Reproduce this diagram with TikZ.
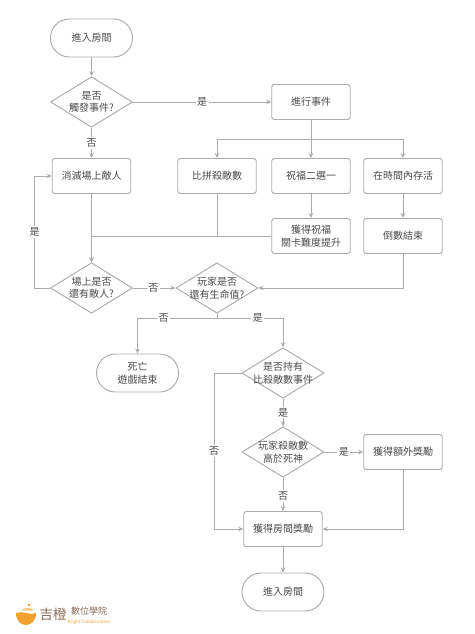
\documentclass[tikz,border=0pt]{standalone}
\usepackage{fontspec}
\setmainfont{Noto Sans CJK TC}
\usetikzlibrary{shapes.geometric,arrows.meta,calc}
\definecolor{ln}{HTML}{ABABAB}
\definecolor{tx}{HTML}{4A4A4A}
\definecolor{lgb}{HTML}{8A6A55}
\definecolor{lgo}{HTML}{F2A12E}
\tikzset{
  base/.style={draw=ln,line width=0.95pt,text=tx,font=\fontsize{10}{12.5}\selectfont,align=center,inner sep=0pt},
  procbox/.style={base,rectangle,rounded corners=2.5pt,minimum width=78.5pt,minimum height=35pt},
  term/.style={base,rectangle,rounded corners=18.9pt,minimum width=82pt,minimum height=38pt},
  decis/.style={draw=ln,line width=0.95pt,diamond,aspect=1.62,inner sep=0pt,minimum width=82pt,minimum height=50.5pt},
  dtext/.style={text=tx,font=\fontsize{10}{12.5}\selectfont,align=center,inner sep=0pt},
  conn/.style={draw=ln,line width=0.95pt,-{Stealth[length=5pt,width=4.5pt,color=ln]}},
  plain/.style={draw=ln,line width=0.95pt},
  lab/.style={fill=white,text=tx,font=\fontsize{10}{12}\selectfont,inner sep=1.5pt}
}
\begin{document}
\begin{tikzpicture}[x=1pt,y=-1pt]
\useasboundingbox (0,0) rectangle (474,634);
\node[term] (start) at (91.5,38) {進入房間};
\node[decis] (d1) at (91.5,102) {};
\node[dtext] (d1t) at (d1) {是否\\觸發事件?};
\node[procbox] (kill) at (91.5,176) {消滅場上敵人};
\node[procbox] (cmp) at (217,176) {比拼殺敵數};
\node[procbox] (ev) at (311,102) {進行事件};
\node[procbox] (bless) at (311,176) {祝福二選一};
\node[procbox] (surv) at (403,176) {在時間內存活};
\node[procbox] (gain) at (311,236) {獲得祝福\\關卡難度提升};
\node[procbox] (cnt) at (403,236) {倒數結束};
\node[decis] (d2) at (91.5,288) {};
\node[dtext] (d2t) at (d2) {場上是否\\還有敵人?};
\node[decis] (d3) at (217,288) {};
\node[dtext] (d3t) at (d3) {玩家是否\\還有生命值?};
\node[term] (dead) at (137.5,373) {死亡\\遊戲結束};
\node[decis] (d4) at (283,373) {};
\node[dtext] (d4t) at (d4) {是否持有\\比殺敵數事件};
\node[decis] (d5) at (283,452) {};
\node[dtext] (d5t) at (d5) {玩家殺敵數\\高於死神};
\node[procbox] (extra) at (403,452) {獲得額外獎勵};
\node[procbox] (room) at (283,529) {獲得房間獎勵};
\node[term] (end) at (283,592) {進入房間};

\coordinate (j1) at (311,139);
\coordinate (j1l) at (217,139);
\coordinate (j1r) at (403,139);
\coordinate (j2) at (91.5,236);
\coordinate (j3) at (217,236);
\coordinate (lp) at (34.5,288);
\coordinate (lq) at (34.5,176);
\coordinate (k1) at (217,318);
\coordinate (k2) at (137.5,318);
\coordinate (k3) at (283,318);
\coordinate (m1) at (214,373);
\coordinate (m2) at (214,529);
\coordinate (n1) at (403,288);
\coordinate (n2) at (403,529);

\draw[conn] (start) -- (d1);
\draw[conn] (d1) -- node[lab] (l1) {否} (kill);
\draw[conn] (d1) -- node[lab,pos=0.5] (l2) {是} (ev);
\draw[plain] (ev) -- (j1);
\draw[plain] (j1l) -- (j1r);
\draw[conn] (j1l) -- (cmp);
\draw[conn] (j1) -- (bless);
\draw[conn] (j1r) -- (surv);
\draw[conn] (bless) -- (gain);
\draw[conn] (surv) -- (cnt);
\draw[conn] (kill) -- (d2);
\draw[plain] (cmp) -- (j3);
\draw[conn] (gain) -- (j2) -- (d2);
\draw[conn] (d2) -- (lp) -- node[lab] (l3) {是} (lq) -- (kill);
\draw[conn] (d2) -- node[lab,pos=0.48] (l4) {否} (d3);
\draw[conn] (cnt) -- (n1) -- (d3);
\draw[conn] (d3) -- (k1) -- node[lab,pos=0.67] (l5) {否} (k2) -- (dead);
\draw[conn] (k1) -- node[lab,pos=0.62] (l6) {是} (k3) -- (d4);
\draw[conn] (d4) -- node[lab] (l7) {是} (d5);
\draw[conn] (d4) -- (m1) -- node[lab,pos=0.5] (l8) {否} (m2) -- (room);
\draw[conn] (d5) -- node[lab,pos=0.5] (l9) {是} (extra);
\draw[conn] (d5) -- node[lab,pos=0.55] (l10) {否} (room);
\draw[conn] (extra) -- (n2) -- (room);
\draw[conn] (room) -- (end);

% logo
\fill[lgo] (16,613) .. controls (16,621) and (21,625) .. (26,625) .. controls (31,625) and (36,621) .. (36,613) .. controls (30,616) and (22,610) .. (16,613) -- cycle;
\fill[lgo!60] (21,611) .. controls (24,607) and (30,607) .. (34,610) .. controls (29,612) and (25,609) .. (21,611) -- cycle;
\fill[lgo!80!brown] (29,605) circle (1.4pt);
\node[text=lgb,font=\fontsize{13.5}{14}\selectfont,inner sep=0pt] (lg1) at (53,614) {吉橙};
\node[text=lgb,font=\fontsize{9}{9}\selectfont,inner sep=0pt] (lg2) at (89,611.5) {數位學院};
\node[text=lgo,font=\fontsize{4.5}{5}\selectfont,inner sep=0pt] (lg3) at (89,622) {Bright Collaboration};
\end{tikzpicture}
\end{document}
